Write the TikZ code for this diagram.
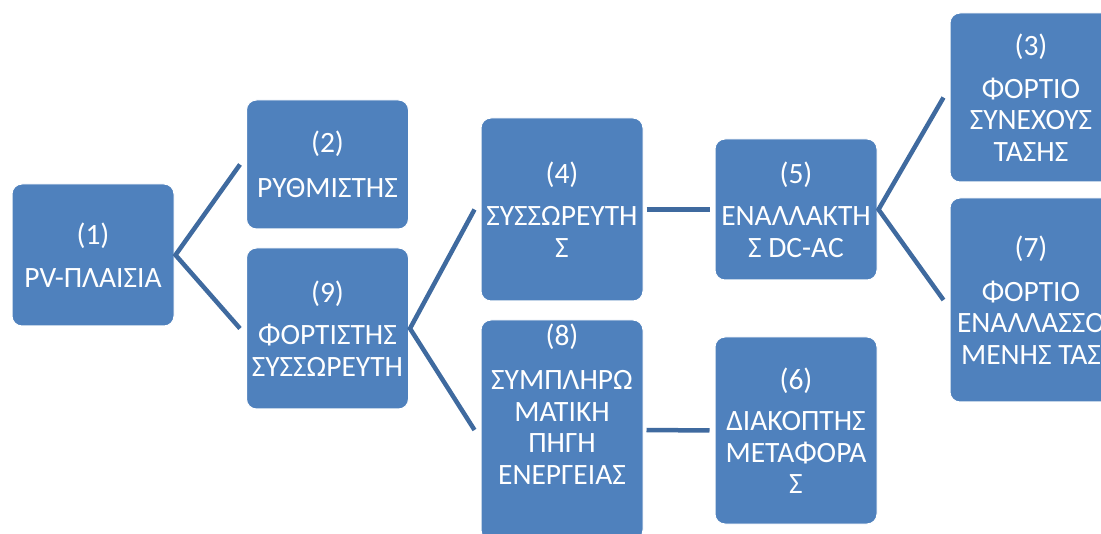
\documentclass[tikz,border=0pt]{standalone}
\usepackage{fontspec}
\setmainfont{Carlito}
\definecolor{boxblue}{HTML}{4F81BD}
\definecolor{linkblue}{HTML}{3F6A9F}
\begin{document}
\begin{tikzpicture}[x=1pt,y=-1pt,
  boxtext/.style={text=white, align=center, inner sep=0pt,
    font=\fontsize{29.5}{31.5}\selectfont},
  box/.style={boxtext, fill=boxblue, draw=white, line width=1pt, rounded corners=10pt,
    minimum width=162pt},
  link/.style={draw=linkblue, line width=4.5pt}]
\useasboundingbox (0,0) rectangle (1101,534);
\clip (0,0) rectangle (1101,534);
\node[box, minimum height=142pt] (n1) at (93,255) {(1)\\[12pt]PV-ΠΛΑΙΣΙΑ};
\node[box, minimum height=129pt] (n2) at (327.5,164.5) {(2)\\[14pt]ΡΥΘΜΙΣΤΗΣ};
\node[box, minimum height=161pt] (n9) at (327.5,328.5) {(9)\\[11pt]ΦΟΡΤΙΣΤΗΣ\\ΣΥΣΣΩΡΕΥΤΗ};
\node[box, minimum height=183pt] (n4) at (562,209.5) {(4)\\[11pt]ΣΥΣΣΩΡΕΥΤΗ\\Σ};
\node[box, minimum height=220pt] (n8) at (562,430) {};
\node[boxtext] (t8) at (562,404) {(8)\\[13pt]ΣΥΜΠΛΗΡΩ\\ΜΑΤΙΚΗ\\ΠΗΓΗ\\ΕΝΕΡΓΕΙΑΣ};
\node[box, minimum height=141pt] (n5) at (796,209.5) {(5)\\[11pt]ΕΝΑΛΛΑΚΤΗ\\Σ DC-AC};
\node[box, minimum height=187pt] (n6) at (796,430.5) {(6)\\[10pt]ΔΙΑΚΟΠΤΗΣ\\ΜΕΤΑΦΟΡΑ\\Σ};
\node[box, minimum height=169pt] (n3) at (1031,97.5) {(3)\\[11pt]ΦΟΡΤΙΟ\\ΣΥΝΕΧΟΥΣ\\ΤΑΣΗΣ};
\node[box, minimum height=204pt] (n7) at (1031,300) {(7)\\[12pt]ΦΟΡΤΙΟ\\ΕΝΑΛΛΑΣΣΟ\\ΜΕΝΗΣ ΤΑΣ};
\draw[link] ([xshift=-6pt]n2.west) -- ([xshift=1pt]n1.east) -- ([xshift=-6pt]n9.west);
\draw[link] ([xshift=-6pt]n4.west) -- ([xshift=1pt]n9.east) -- ([xshift=-6pt]n8.west);
\draw[link] ([xshift=3pt]n4.east) -- ([xshift=-5pt]n5.west);
\draw[link] ([xshift=3pt]n8.east) -- ([xshift=-5pt]n6.west);
\draw[link] ([xshift=-6pt]n3.west) -- ([xshift=1pt]n5.east) -- ([xshift=-6pt]n7.west);
\end{tikzpicture}
\end{document}
